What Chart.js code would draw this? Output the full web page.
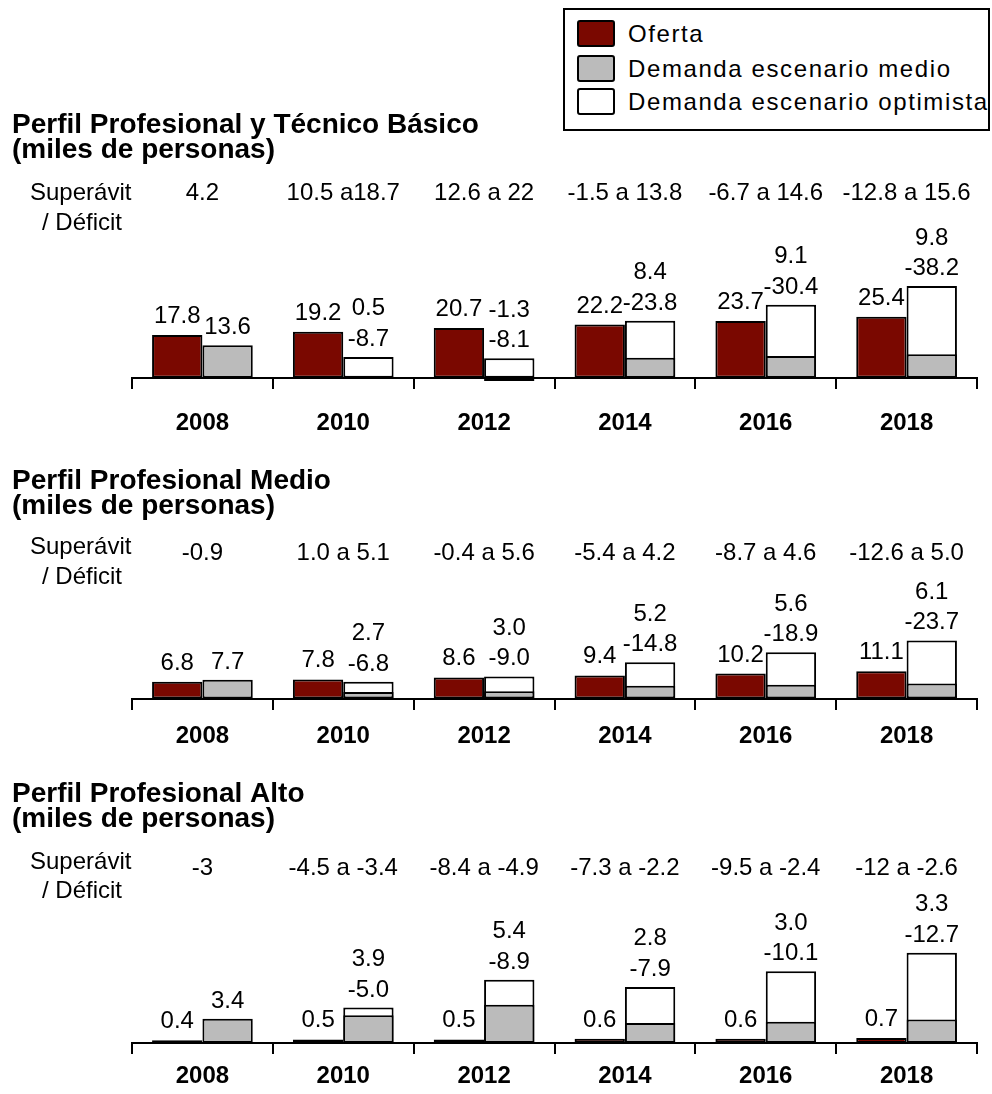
<!DOCTYPE html>
<html>
<head>
<meta charset="utf-8">
<script src="https://cdn.jsdelivr.net/npm/chart.js@4.4.0/dist/chart.umd.min.js"></script>
<style>
  html, body { margin: 0; padding: 0; background: #fff; }
  body { position: relative; width: 992px; height: 1094px; overflow: hidden;
         font-family: "Liberation Sans", Arial, sans-serif; }
  canvas { position: absolute; left: 0; }
  #leyenda { position: absolute; left: 563px; top: 8px; width: 427px; height: 123px;
             border: 2px solid #000; box-sizing: border-box; background: #fff; z-index: 2; }
  #leyenda .item { position: absolute; left: 12px; height: 27px; line-height: 27px;
                   font-size: 24px; letter-spacing: 1.6px; white-space: nowrap; }
  #leyenda .caja { display: inline-block; width: 38px; height: 27px; box-sizing: border-box;
                   border: 2px solid #000; border-radius: 3px; vertical-align: top; margin-right: 13px; }
</style>
</head>
<body>
<div id="leyenda"></div>
<canvas id="c1" width="992" height="460" style="top:0px"></canvas>
<canvas id="c2" width="992" height="310" style="top:460px"></canvas>
<canvas id="c3" width="992" height="324" style="top:770px"></canvas>
<script>
const anios = ['2008', '2010', '2012', '2014', '2016', '2018'];

// Perfil Profesional y Técnico Básico
const basicoOferta = [17.8, 19.2, 20.7, 22.2, 23.7, 25.4];
const basicoMedio = [13.6, 0.5, -1.3, 8.4, 9.1, 9.8];
const basicoOptimista = [null, -8.7, -8.1, -23.8, -30.4, -38.2];
const basicoBalance = ['4.2', '10.5 a18.7', '12.6 a 22', '-1.5 a 13.8', '-6.7 a 14.6', '-12.8 a 15.6'];

// Perfil Profesional Medio
const medioOferta = [6.8, 7.8, 8.6, 9.4, 10.2, 11.1];
const medioMedio = [7.7, 2.7, 3.0, 5.2, 5.6, 6.1];
const medioOptimista = [null, -6.8, -9.0, -14.8, -18.9, -23.7];
const medioBalance = ['-0.9', '1.0 a 5.1', '-0.4 a 5.6', '-5.4 a 4.2', '-8.7 a 4.6', '-12.6 a 5.0'];

// Perfil Profesional Alto
const altoOferta = [0.4, 0.5, 0.5, 0.6, 0.6, 0.7];
const altoMedio = [3.4, 3.9, 5.4, 2.8, 3.0, 3.3];
const altoOptimista = [null, -5.0, -8.9, -7.9, -10.1, -12.7];
const altoBalance = ['-3', '-4.5 a -3.4', '-8.4 a -4.9', '-7.3 a -2.2', '-9.5 a -2.4', '-12 a -2.6'];

const ROJO = '#7a0800';
const GRIS = '#bbbbbb';
const BLANCO = '#ffffff';
const FUENTE = '"Liberation Sans", Arial, sans-serif';

Chart.defaults.font.family = FUENTE;
Chart.defaults.color = '#000';

// leyenda común a los tres paneles
const series = [
  ['Oferta', ROJO, 10],
  ['Demanda escenario medio', GRIS, 45],
  ['Demanda escenario optimista', BLANCO, 78]
];
const leyenda = document.getElementById('leyenda');
series.forEach(([nombre, color, top]) => {
  const item = document.createElement('div');
  item.className = 'item';
  item.style.top = top + 'px';
  item.innerHTML = '<span class="caja" style="background:' + color + '"></span>' + nombre;
  leyenda.appendChild(item);
});

const paneles = [
  { id: 'c1', titulo: ['Perfil Profesional y Técnico Básico', '(miles de personas)'], tituloY: [133, 158],
    oferta: basicoOferta, medio: basicoMedio, optimista: basicoOptimista, balance: basicoBalance,
    rotuloY: [200, 230], balanceY: 200, base: 377.8, escala: 2.4, min: -10, max: 50, pad: 21 },
  { id: 'c2', titulo: ['Perfil Profesional Medio', '(miles de personas)'], tituloY: [29, 54],
    oferta: medioOferta, medio: medioMedio, optimista: medioOptimista, balance: medioBalance,
    rotuloY: [94, 124], balanceY: 100, base: 238.5, escala: 2.45, min: -10, max: 40, pad: 13 },
  { id: 'c3', titulo: ['Perfil Profesional Alto', '(miles de personas)'], tituloY: [32, 57],
    oferta: altoOferta, medio: altoMedio, optimista: altoOptimista, balance: altoBalance,
    rotuloY: [99, 128], balanceY: 105, base: 273, escala: 7.1, min: -3, max: 15, pad: 8.5 }
];

function textos(p) {
  return {
    id: 'textos',
    afterDatasetsDraw(chart) {
      const ctx = chart.ctx;
      const mOferta = chart.getDatasetMeta(0);
      const mMedio = chart.getDatasetMeta(1);
      const mOpt = chart.getDatasetMeta(2);
      ctx.save();
      ctx.font = '24px ' + FUENTE;
      ctx.fillStyle = '#000';
      ctx.textAlign = 'center';
      ctx.textBaseline = 'alphabetic';
      anios.forEach((a, i) => {
        const bo = mOferta.data[i];
        ctx.fillText(p.oferta[i].toFixed(1), bo.x, bo.y - 12);

        // las cifras de demanda van apiladas sobre la barra más alta
        const bm = mMedio.data[i];
        const bw = mOpt.data[i];
        let tope = Math.min(bm.y, bo.base);
        if (p.optimista[i] !== null) tope = Math.min(tope, bw.y);
        const lineas = [p.medio[i].toFixed(1)];
        if (p.optimista[i] !== null) lineas.push(p.optimista[i].toFixed(1));
        lineas.reverse().forEach((t, k) => ctx.fillText(t, bm.x, tope - 11 - k * 30.5));
      });
      ctx.restore();
    },
    afterDraw(chart) {
      const ctx = chart.ctx;
      const x = chart.scales.x;
      ctx.save();
      ctx.fillStyle = '#000';
      ctx.textBaseline = 'alphabetic';
      ctx.textAlign = 'left';
      ctx.font = 'bold 28px ' + FUENTE;
      p.titulo.forEach((t, k) => ctx.fillText(t, 12, p.tituloY[k]));
      ctx.font = '24px ' + FUENTE;
      ctx.fillText('Superávit', 30, p.rotuloY[0]);
      ctx.fillText('/ Déficit', 42, p.rotuloY[1]);
      ctx.textAlign = 'center';
      p.balance.forEach((t, i) => ctx.fillText(t, x.getPixelForValue(i), p.balanceY));
      ctx.restore();
    }
  };
}

paneles.forEach(p => {
  const canvas = document.getElementById(p.id);
  const alto = canvas.height;
  const arriba = p.base - p.max * p.escala;
  const abajo = p.base - p.min * p.escala;
  new Chart(canvas, {
    type: 'bar',
    data: {
      labels: anios,
      datasets: [
        { label: 'Oferta', data: p.oferta, backgroundColor: ROJO, stack: 'oferta' },
        { label: 'Demanda escenario medio', data: p.medio, backgroundColor: GRIS, stack: 'demanda' },
        { label: 'Demanda escenario optimista', data: p.optimista.map(v => v === null ? null : Math.abs(v)),
          backgroundColor: BLANCO, stack: 'demanda' }
      ]
    },
    options: {
      responsive: false,
      animation: false,
      devicePixelRatio: 1,
      layout: { padding: { left: 132, right: 15, top: arriba, bottom: alto - abajo } },
      datasets: {
        bar: { borderColor: '#000', borderWidth: 2, borderSkipped: false,
               categoryPercentage: 0.715, barPercentage: 1 }
      },
      scales: {
        x: {
          position: { y: 0 },
          grid: { display: true, drawOnChartArea: false, drawTicks: true, tickLength: 10,
                  lineWidth: 2, color: '#000', offset: true },
          border: { display: true, color: '#000', width: 2 },
          ticks: { color: '#000', padding: p.pad, font: { size: 24, weight: 'bold' } }
        },
        y: { display: false, stacked: false, min: p.min, max: p.max }
      },
      plugins: { legend: { display: false }, tooltip: { enabled: false } }
    },
    plugins: [textos(p)]
  });
});
</script>
</body>
</html>
